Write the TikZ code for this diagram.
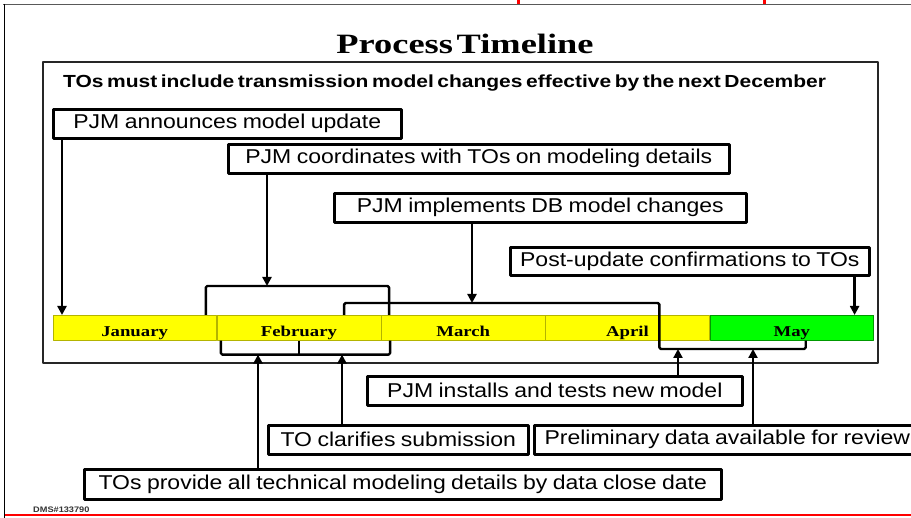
\documentclass[tikz,border=0pt]{standalone}
\usepackage{fontspec}
\usetikzlibrary{positioning, arrows.meta}
\newfontfamily\boxfont[FakeStretch=1.15, WordSpace=0.85]{Liberation Sans}
\newfontfamily\headfont[FakeStretch=1.2, WordSpace=0.6]{Liberation Sans}
\newfontfamily\titlefont[FakeStretch=1.3, WordSpace=0.4]{Liberation Serif}
\newfontfamily\monthfont[FakeStretch=1.25]{Liberation Serif}
\definecolor{myellow}{HTML}{FFFF00}
\definecolor{mgreen}{HTML}{00FF00}
\definecolor{cellrim}{HTML}{B4B400}

\tikzset{
  stepbox/.style={draw, line width=2.6pt, inner sep=0pt, anchor=north west, minimum height=29pt, font=\boxfont\fontsize{20}{24}\selectfont},
  month/.style={draw=cellrim, line width=.6pt, inner sep=0pt, minimum width=163.7pt, minimum height=25pt, text height=21pt, text depth=4pt, font=\monthfont\bfseries\fontsize{15}{18}\selectfont},
  link/.style={line width=2.4pt, -{Triangle[width=9pt,length=9pt]}},
  bracket/.style={line width=2.4pt, rounded corners=1.5pt},
}

\begin{document}
\begin{tikzpicture}[x=1pt, y=-1pt, line join=bevel]
\useasboundingbox (0,0) rectangle (911,518);

% page frame
\draw[gray!70!black, line width=1.5pt] (3,4.5) -- (911,4.5);
\draw[line width=1.5pt] (4.5,4) -- (4.5,518);
\draw[red, line width=3pt] (518,0) -- (518,4) (764,0) -- (764,4);
\draw[red, line width=1.2pt] (5,515) -- (911,515);
\node[anchor=base west, inner sep=0pt, font=\boxfont\bfseries\fontsize{8}{9}\selectfont, text=black!80] (dms) at (33,513) {DMS\#133790};

\node[anchor=base, inner sep=0pt, font=\titlefont\bfseries\fontsize{28}{32}\selectfont] (title) at (465,54) {Process Timeline};
\draw[black!85, line width=2pt] (43,62) rectangle (878,363);
\node[anchor=base west, inner sep=0pt, font=\headfont\bfseries\fontsize{17.5}{20}\selectfont] (goal) at (63,88) {TOs must include transmission model changes effective by the next December};

% months
\node[month, fill=myellow, anchor=north west] (jan) at (52.5,315) {January};
\node[month, fill=myellow, right=0pt of jan] (feb) {February};
\node[month, fill=myellow, right=0pt of feb] (mar) {March};
\node[month, fill=myellow, right=0pt of mar] (apr) {April};
\node[month, fill=mgreen, draw=green!60!black, right=0pt of apr] (may) {May};

% steps
\node[stepbox, minimum width=348pt] (announce) at (52,108) {PJM announces model update};
\node[stepbox, minimum width=501pt] (coord) at (227,143) {PJM coordinates with TOs on modeling details};
\node[stepbox, minimum width=412pt] (impl) at (333,192) {PJM implements DB model changes};
\node[stepbox, minimum width=359pt, minimum height=28pt] (post) at (509,246) {Post-update confirmations to TOs};
\node[stepbox, minimum width=375pt] (install) at (366,375) {PJM installs and tests new model};
\node[stepbox, minimum width=260pt] (clar) at (267,424) {TO clarifies submission};
\node[stepbox, minimum width=386pt] (prelim) at (533,424) {Preliminary data available for review};
\node[stepbox, minimum width=637pt, minimum height=30pt] (tos) at (83,468) {TOs provide all technical modeling details by data close date};

% brackets
\draw[bracket] ([xshift=-11pt]feb.north west) -- ++(0,-29) coordinate (k1) -| ([xshift=8pt]feb.north east);
\draw[bracket] ([xshift=-37pt]mar.north west) -- ++(0,-12) coordinate (k2) -| ([xshift=114pt]apr.north west) -- ++(0,34) coordinate (k3) -| ([xshift=96pt]may.south west);
\draw[bracket] ([xshift=4pt]feb.south west) -- ++(0,14) coordinate (k4) -| ([xshift=9pt]feb.south east);
\draw[bracket] (feb.south) -- (feb.south |- k4);

% arrows
\draw[link] ([xshift=10pt]announce.south west) coordinate (s1) -- (s1 |- jan.north);
\draw[link] ([xshift=40pt]coord.south west) coordinate (s2) -- (s2 |- k1);
\draw[link] ([xshift=139pt]impl.south west) coordinate (s3) -- (s3 |- k2);
\draw[link] ([xshift=-16pt]post.south east) coordinate (s8) -- (s8 |- may.north);
\draw[link] ([xshift=175pt]tos.north west) coordinate (s4) -- (s4 |- k4);
\draw[link] ([xshift=75pt]clar.north west) coordinate (s5) -- (s5 |- k4);
\draw[link] ([xshift=312pt]install.north west) coordinate (s6) -- (s6 |- k3);
\draw[link] ([xshift=220pt]prelim.north west) coordinate (s7) -- (s7 |- k3);

\end{tikzpicture}
\end{document}
